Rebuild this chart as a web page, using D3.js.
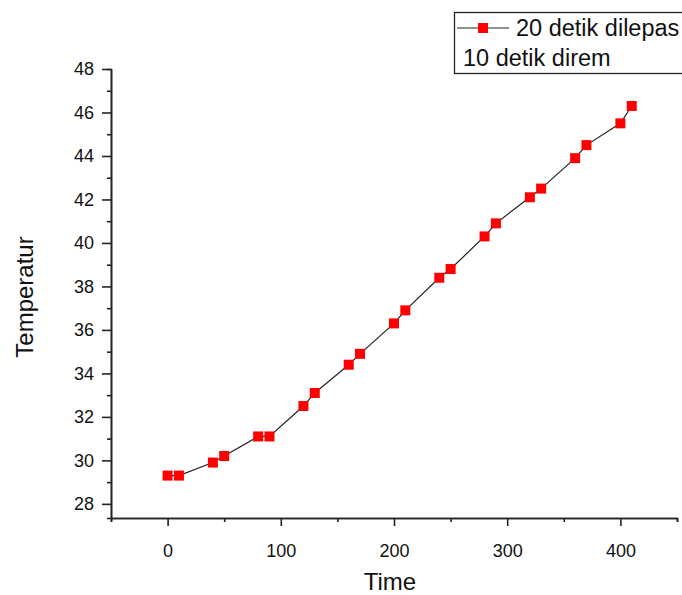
<!DOCTYPE html>
<html>
<head>
<meta charset="utf-8">
<script src="https://cdn.jsdelivr.net/npm/d3@7"></script>
<style>
  body { margin: 0; background: #fff; }
  text { font-family: "Liberation Sans", Arial, sans-serif; fill: #111; }
</style>
</head>
<body>
<script>
// data
var times = [0, 10, 40, 50, 80, 90, 120, 130, 160, 170, 200, 210, 240, 250, 280, 290, 320, 330, 360, 370, 400, 410];
var temps = [29.3, 29.3, 29.9, 30.2, 31.1, 31.1, 32.5, 33.1, 34.4, 34.9, 36.3, 36.9, 38.4, 38.8, 40.3, 40.9, 42.1, 42.5, 43.9, 44.5, 45.5, 46.3];
var xTicks = [0, 100, 200, 300, 400];
var xMinor = [-50, 50, 150, 250, 350, 450];
var yTicks = [28, 30, 32, 34, 36, 38, 40, 42, 44, 46, 48];
var yMinor = [29, 31, 33, 35, 37, 39, 41, 43, 45, 47];
var legendLines = ["20 detik dilepas", "10 detik direm"];

var width = 682, height = 595;

var svg = d3.select("body").append("svg")
    .attr("width", width)
    .attr("height", height);

// scales
var x = d3.scaleLinear().domain([-50, 450]).range([111, 677]);
var y = d3.scaleLinear().domain([27.35, 48]).range([518, 69]);

var axisColor = "#222";

// x axis
var gx = svg.append("g").attr("transform", "translate(0,518)");
gx.call(d3.axisBottom(x).tickValues(xTicks).tickSize(8).tickSizeOuter(0).tickPadding(18));
gx.append("g").call(d3.axisBottom(x).tickValues(xMinor).tickSize(4).tickFormat(""));

// y axis
var gy = svg.append("g").attr("transform", "translate(111,0)");
gy.call(d3.axisLeft(y).tickValues(yTicks).tickSize(9).tickSizeOuter(0).tickPadding(8));
gy.append("g").call(d3.axisLeft(y).tickValues(yMinor).tickSize(4).tickFormat(""));

svg.selectAll(".domain").attr("stroke", axisColor).attr("stroke-width", 1.6);
svg.selectAll(".tick line").attr("stroke", axisColor).attr("stroke-width", 1.6);
svg.selectAll(".tick text").attr("font-size", 18).attr("fill", "#111")
    .attr("font-family", "Liberation Sans, Arial, sans-serif");

// axis titles
svg.append("text")
    .attr("x", 390).attr("y", 590)
    .attr("text-anchor", "middle")
    .attr("font-size", 24)
    .text("Time");

svg.append("text")
    .attr("transform", "translate(33,297) rotate(-90)")
    .attr("text-anchor", "middle")
    .attr("font-size", 24)
    .text("Temperatur");

// line
var points = times.map(function(t, i) { return [t, temps[i]]; });
svg.append("path")
    .datum(points)
    .attr("fill", "none")
    .attr("stroke", "#222")
    .attr("stroke-width", 1.2)
    .attr("d", d3.line().x(d => x(d[0])).y(d => y(d[1])));

// markers
var ms = 10;
svg.selectAll("rect.pt")
    .data(points)
    .enter()
    .append("rect")
    .attr("class", "pt")
    .attr("x", d => x(d[0]) - ms / 2)
    .attr("y", d => y(d[1]) - ms / 2)
    .attr("width", ms)
    .attr("height", ms)
    .attr("fill", "#ff0000");

// legend
var lg = svg.append("g");
lg.append("rect")
    .attr("x", 454.5).attr("y", 12.5)
    .attr("width", 260).attr("height", 61)
    .attr("fill", "#fff")
    .attr("stroke", "#222")
    .attr("stroke-width", 1.3);
lg.append("line")
    .attr("x1", 457).attr("x2", 509).attr("y1", 28).attr("y2", 28)
    .attr("stroke", "#222").attr("stroke-width", 1.2);
lg.append("rect")
    .attr("x", 483 - ms / 2).attr("y", 28 - ms / 2)
    .attr("width", ms).attr("height", ms)
    .attr("fill", "#ff0000");
lg.append("text")
    .attr("x", 516).attr("y", 36)
    .attr("font-size", 23.5)
    .text(legendLines[0]);
lg.append("text")
    .attr("x", 463).attr("y", 66)
    .attr("font-size", 23.5)
    .text(legendLines[1]);
</script>
</body>
</html>
